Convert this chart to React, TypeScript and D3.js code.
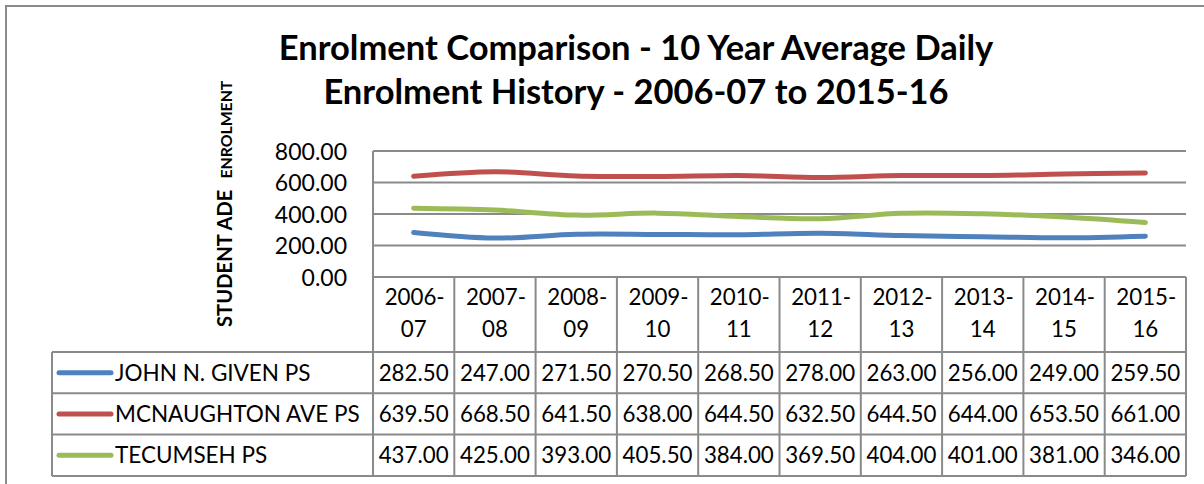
import React from "react";
import * as d3 from "d3";

const categories = ["2006-07", "2007-08", "2008-09", "2009-10", "2010-11", "2011-12", "2012-13", "2013-14", "2014-15", "2015-16"];
const seriesNames = ["JOHN N. GIVEN PS", "MCNAUGHTON AVE PS", "TECUMSEH PS"];
const johnGiven = [282.5, 247.0, 271.5, 270.5, 268.5, 278.0, 263.0, 256.0, 249.0, 259.5];
const mcnaughton = [639.5, 668.5, 641.5, 638.0, 644.5, 632.5, 644.5, 644.0, 653.5, 661.0];
const tecumseh = [437.0, 425.0, 393.0, 405.5, 384.0, 369.5, 404.0, 401.0, 381.0, 346.0];
const yTicks = [0, 200, 400, 600, 800];
const colors = ["#4F81BD", "#C0504D", "#9BBB59"];
const titleLines = ["Enrolment Comparison - 10 Year Average Daily", "Enrolment History - 2006-07 to 2015-16"];

const FONT = "Lato, 'Open Sans', sans-serif";
const GRID = "#8a8a8a";

export default function App() {
  const seriesValues = [johnGiven, mcnaughton, tecumseh];
  const plotLeft = 373;
  const plotRight = 1186;
  const plotTop = 151;
  const plotBottom = 277;
  const tableLeft = 52;
  const headerBottom = 352;
  const rowH = 41.3;

  const x = d3.scaleBand<string>().domain(categories).range([plotLeft, plotRight]).padding(0);
  const y = d3.scaleLinear().domain([0, 800]).range([plotBottom, plotTop]);
  const cx = (c: string) => (x(c) ?? 0) + x.bandwidth() / 2;

  const line = d3
    .line<number>()
    .x((_, i) => cx(categories[i]))
    .y((d) => y(d))
    .curve(d3.curveCatmullRom.alpha(0.5));

  const boundaries = [...categories.map((c) => x(c) ?? 0), plotRight];
  const rowTops = seriesNames.map((_, i) => headerBottom + i * rowH);
  const tableBottom = headerBottom + seriesNames.length * rowH;
  const fs = 22.3;

  return (
    <svg width={1204} height={484} style={{ position: "absolute", left: 0, top: 0, background: "#fff" }}>
      <rect x={0} y={0} width={1204} height={484} fill="#fff" />
      {/* outer chart border */}
      <rect x={6} y={6} width={1220} height={500} fill="none" stroke={GRID} strokeWidth={2} />

      {/* title */}
      <text x={636} y={60} textAnchor="middle" fontFamily={FONT} fontWeight={700} fontSize={34.5} fill="#000">
        {titleLines[0]}
      </text>
      <text x={636} y={104} textAnchor="middle" fontFamily={FONT} fontWeight={700} fontSize={34.5} fill="#000">
        {titleLines[1]}
      </text>

      {/* y axis title */}
      <text
        transform="translate(232,327) rotate(-90)"
        fontFamily={FONT}
        fontWeight={700}
        fill="#000"
      >
        <tspan fontSize={20.2}>STUDENT ADE</tspan>
        <tspan fontSize={15.8} dx={11}>ENROLMENT</tspan>
      </text>

      {/* gridlines */}
      {yTicks.filter((t) => t > 0).map((t) => (
        <line key={t} x1={plotLeft} x2={plotRight} y1={y(t)} y2={y(t)} stroke={GRID} strokeWidth={2} />
      ))}
      <line x1={plotLeft} x2={plotLeft} y1={plotTop} y2={tableBottom} stroke={GRID} strokeWidth={2} />

      {/* y tick labels */}
      {yTicks.map((t) => (
        <text key={t} x={347} y={y(t) + 8.5} textAnchor="end" fontFamily={FONT} fontSize={23} fill="#000">
          {d3.format(".2f")(t)}
        </text>
      ))}

      {/* series lines */}
      {seriesValues.map((vals, i) => (
        <path key={i} d={line(vals) ?? ""} fill="none" stroke={colors[i]} strokeWidth={5} strokeLinecap="round" strokeLinejoin="round" />
      ))}

      {/* data table: header */}
      <line x1={plotLeft} x2={plotRight} y1={plotBottom} y2={plotBottom} stroke={GRID} strokeWidth={2} />
      {boundaries.map((b, i) => (
        <line key={i} x1={b} x2={b} y1={plotBottom} y2={tableBottom} stroke={GRID} strokeWidth={2} />
      ))}
      {categories.map((c) => {
        const [a, b] = c.split("-");
        return (
          <g key={c}>
            <text x={cx(c) + 1} y={305} textAnchor="middle" fontFamily={FONT} fontSize={fs} fill="#000">
              {a}-
            </text>
            <text x={cx(c)} y={337} textAnchor="middle" fontFamily={FONT} fontSize={fs} fill="#000">
              {b}
            </text>
          </g>
        );
      })}

      {/* data table rows */}
      {[...rowTops, tableBottom].map((ry, i) => (
        <line key={i} x1={tableLeft} x2={plotRight} y1={ry} y2={ry} stroke={GRID} strokeWidth={2} />
      ))}
      <line x1={tableLeft} x2={tableLeft} y1={headerBottom} y2={tableBottom} stroke={GRID} strokeWidth={2} />
      {seriesNames.map((name, i) => {
        const my = rowTops[i] + rowH / 2;
        return (
          <g key={name}>
            <line x1={59} x2={111} y1={my} y2={my} stroke={colors[i]} strokeWidth={5} strokeLinecap="round" />
            <text x={115} y={my + 8} fontFamily={FONT} fontSize={22.5} fill="#000">
              {name}
            </text>
            {seriesValues[i].map((v, j) => (
              <text key={j} x={cx(categories[j])} y={my + 8} textAnchor="middle" fontFamily={FONT} fontSize={fs} fill="#000">
                {d3.format(".2f")(v)}
              </text>
            ))}
          </g>
        );
      })}
    </svg>
  );
}
